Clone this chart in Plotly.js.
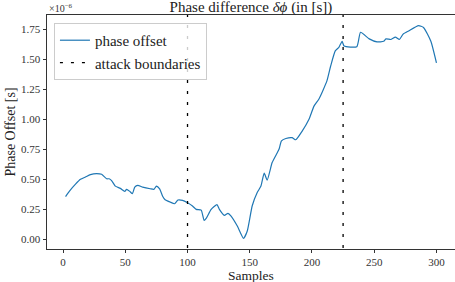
<!DOCTYPE html>
<html>
<head>
<meta charset="utf-8">
<script src="https://cdn.plot.ly/plotly-3.0.1.min.js"></script>
<style>html,body{margin:0;padding:0;background:#fff}#chart{width:455px;height:282px}</style>
</head>
<body>
<div id="chart"></div>
<script>
// Samples (x) and phase offset values (in units of 1e-6 s)
const samples = [2, 5, 10, 14, 18, 22, 27, 31, 35, 37, 39, 42, 46, 49.6, 51, 53.6, 55.7, 57.6, 60, 64, 70, 73, 75, 77.6, 80, 82, 86, 89.6, 92.3, 96, 100, 104, 107, 111, 113.3, 115, 119, 123.7, 125.6, 129.6, 132.5, 135, 140, 145, 148, 152, 156, 159, 161.6, 164, 168, 172, 173.5, 175.5, 179, 184, 187, 192, 197.6, 201.6, 205.6, 212, 215, 218.7, 221.6, 224.2, 225.8, 236, 239, 246, 252.3, 257.6, 259.4, 263.5, 267, 270.2, 273.2, 277.6, 285.6, 289.6, 295.5, 300];
const phaseOffset = [0.356, 0.40, 0.46, 0.50, 0.52, 0.54, 0.548, 0.542, 0.505, 0.505, 0.49, 0.444, 0.425, 0.40, 0.417, 0.40, 0.38, 0.436, 0.45, 0.436, 0.422, 0.417, 0.444, 0.42, 0.36, 0.33, 0.311, 0.297, 0.328, 0.325, 0.305, 0.278, 0.25, 0.244, 0.158, 0.175, 0.25, 0.29, 0.25, 0.20, 0.217, 0.194, 0.111, 0.008, 0.07, 0.28, 0.39, 0.444, 0.552, 0.494, 0.64, 0.72, 0.75, 0.82, 0.84, 0.847, 0.83, 0.90, 1.00, 1.11, 1.17, 1.32, 1.444, 1.57, 1.60, 1.65, 1.61, 1.605, 1.725, 1.67, 1.645, 1.65, 1.67, 1.665, 1.685, 1.665, 1.71, 1.736, 1.78, 1.765, 1.65, 1.47];
const attackBoundaries = [100, 225];
const xTicks = [0, 50, 100, 150, 200, 250, 300];
const yTicks = [0.00, 0.25, 0.50, 0.75, 1.00, 1.25, 1.50, 1.75];

const yRange = [-0.08, 1.869];
const serif = '"Liberation Serif", "DejaVu Serif", serif';

const traces = [{
  x: samples, y: phaseOffset, type: 'scatter', mode: 'lines',
  name: 'phase offset',
  line: {color: '#1f77b4', width: 1.2, shape: 'spline', smoothing: 0.5}
}];
attackBoundaries.forEach((b, i) => {
  traces.push({
    x: [b, b], y: [yRange[0] - 1, yRange[1] + 1], type: 'scatter', mode: 'lines',
    name: 'attack boundaries', legendgroup: 'ab', showlegend: i === 0,
    line: {color: '#000', width: 1.3, dash: '3px,8px'}
  });
});

const layout = {
  width: 455, height: 282,
  margin: {l: 47, r: 0, t: 15, b: 33},
  paper_bgcolor: '#fff', plot_bgcolor: '#fff',
  font: {family: serif, color: '#222', size: 11},
  title: {text: 'Phase difference <i>δϕ</i> (in [s])', font: {family: serif, size: 15, color: '#222'},
          x: 0.5, xref: 'paper', xanchor: 'center', y: 0.995, yref: 'container', yanchor: 'top', pad: {t: 0}},
  xaxis: {
    range: [-12.9, 314.9], tickvals: xTicks, ticktext: xTicks.map(String),
    showgrid: false, zeroline: false, showline: true, mirror: true, linecolor: '#333', linewidth: 1,
    ticks: 'outside', ticklen: 3, tickcolor: '#333', tickfont: {family: serif, size: 11, color: '#333'}
  },
  yaxis: {
    range: yRange, tickvals: yTicks, ticktext: yTicks.map(v => v.toFixed(2)),
    showgrid: false, zeroline: false, showline: true, mirror: false, linecolor: '#333', linewidth: 1,
    ticks: 'outside', ticklen: 3.5, tickcolor: '#333', tickfont: {family: serif, size: 11, color: '#333'},
    title: {text: 'Phase Offset [s]', font: {family: serif, size: 14, color: '#222'}, standoff: 2}
  },
  legend: {
    x: 0.017, y: 0.966, xanchor: 'left', yanchor: 'top',
    bgcolor: 'rgba(255,255,255,0.8)', bordercolor: '#ccc', borderwidth: 1,
    font: {family: serif, size: 15, color: '#222'}, tracegroupgap: 0
  },
  showlegend: true,
  annotations: [{
    text: '×10<sup>−6</sup>', xref: 'paper', yref: 'paper', x: 0, y: 1, xanchor: 'left', yanchor: 'bottom',
    showarrow: false, font: {family: serif, size: 10, color: '#333'}, yshift: -1
  }, {
    text: 'Samples', xref: 'paper', yref: 'paper', x: 0.5, y: 0, xanchor: 'center', yanchor: 'top',
    showarrow: false, font: {family: serif, size: 13.5, color: '#222'}, yshift: -16.5
  }]
};

Plotly.newPlot('chart', traces, layout, {displayModeBar: false, staticPlot: true});
</script>
</body>
</html>
